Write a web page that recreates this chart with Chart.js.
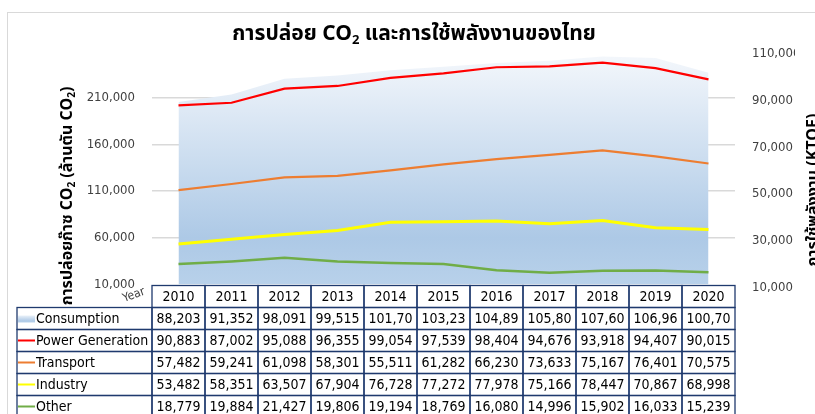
<!DOCTYPE html>
<html>
<head>
<meta charset="utf-8">
<script src="https://cdn.jsdelivr.net/npm/chart.js@4"></script>
<style>
  html, body { margin: 0; padding: 0; background: #fff; }
  #wrap { position: relative; width: 815px; height: 414px; overflow: hidden; }
</style>
</head>
<body>
<div id="wrap"><canvas id="chart" width="815" height="414"></canvas></div>
<script>
// ---- data ----
const years = ['2010', '2011', '2012', '2013', '2014', '2015', '2016', '2017', '2018', '2019', '2020'];
const consumption = [88203, 91352, 98091, 99515, 101704, 103233, 104893, 105802, 107601, 106964, 100705];
const powerGeneration = [90883, 87002, 95088, 96355, 99054, 97539, 98404, 94676, 93918, 94407, 90015];
const transport = [57482, 59241, 61098, 58301, 55511, 61282, 66230, 73633, 75167, 76401, 70575];
const industry = [53482, 58351, 63507, 67904, 76728, 77272, 77978, 75166, 78447, 70867, 68998];
const other = [18779, 19884, 21427, 19806, 19194, 18769, 16080, 14996, 15902, 16033, 15239];

const leftTicks = { min: 10000, max: 260000, step: 50000 };
const rightTicks = { min: 10000, max: 110000, step: 20000 };

const FONT = "'DejaVu Sans Condensed', 'DejaVu Sans', Tahoma, 'Noto Sans', sans-serif";
const THAI = "Tahoma, 'Noto Sans Thai', 'Noto Sans', 'DejaVu Sans', sans-serif";
const BORDER = '#1f3a6e';

function areaGradient(ctx, top, bottom) {
    const g = ctx.createLinearGradient(0, top, 0, bottom);
    g.addColorStop(0, '#f5f8fc');
    g.addColorStop(0.8, '#adc9e6');
    g.addColorStop(1, '#b8d1ea');
    return g;
}

// draw text made of pieces, some of them subscript
function richWidth(ctx, parts, size, weight, family) {
    let w = 0;
    parts.forEach(p => {
        ctx.font = `${weight} ${p.sub ? Math.round(size * 0.62) : size}px ${family}`;
        w += ctx.measureText(p.t).width;
    });
    return w;
}
function drawRich(ctx, parts, x, y, size, weight, family) {
    const total = richWidth(ctx, parts, size, weight, family);
    let cx = x - total / 2;
    ctx.textAlign = 'left';
    ctx.textBaseline = 'alphabetic';
    parts.forEach(p => {
        const s = p.sub ? Math.round(size * 0.62) : size;
        ctx.font = `${weight} ${s}px ${family}`;
        ctx.fillText(p.t, cx, p.sub ? y + size * 0.18 : y);
        cx += ctx.measureText(p.t).width;
    });
}

const decorPlugin = {
    id: 'decor',
    beforeDraw(chart) {
        const ctx = chart.ctx;
        ctx.save();
        ctx.fillStyle = '#fff';
        ctx.fillRect(0, 0, chart.width, chart.height);
        ctx.strokeStyle = '#d9d9d9';
        ctx.lineWidth = 1;
        ctx.strokeRect(7.5, 12.5, 900, 500);
        ctx.restore();
    },
    afterDraw(chart) {
        const ctx = chart.ctx;
        const area = chart.chartArea;
        const x = chart.scales.x;
        ctx.save();
        ctx.fillStyle = '#000';

        // title
        drawRich(ctx, [
            { t: 'การปล่อย CO' }, { t: '2', sub: true }, { t: ' และการใช้พลังงานของไทย' }
        ], 414, 40, 21, 'bold', THAI);

        // left axis title
        ctx.save();
        ctx.translate(72, 196);
        ctx.rotate(-Math.PI / 2);
        drawRich(ctx, [
            { t: 'การปล่อยก๊าซ CO' }, { t: '2', sub: true }, { t: ' (ล้านตัน CO' }, { t: '2', sub: true }, { t: ')' }
        ], 0, 0, 16, 'bold', THAI);
        ctx.restore();

        // right axis title (runs off the edge in the original)
        ctx.save();
        ctx.translate(818, 190);
        ctx.rotate(-Math.PI / 2);
        drawRich(ctx, [{ t: 'การใช้พลังงาน (KTOE)' }], 0, 0, 16, 'bold', THAI);
        ctx.restore();

        // "Year"
        ctx.save();
        ctx.translate(135, 298);
        ctx.rotate(-0.35);
        ctx.font = `12px ${FONT}`;
        ctx.fillStyle = '#404040';
        ctx.textAlign = 'center';
        ctx.fillText('Year', 0, 0);
        ctx.restore();

        // ---- data table ----
        const colW = (area.right - area.left) / years.length;
        const headTop = area.bottom + 1;
        const rowH = 22;
        const legendLeft = 17;
        const rows = [
            { name: 'Consumption', data: consumption, mark: 'area' },
            { name: 'Power Generation', data: powerGeneration, color: '#ff0000' },
            { name: 'Transport', data: transport, color: '#ed7d31' },
            { name: 'Industry', data: industry, color: '#ffff00' },
            { name: 'Other', data: other, color: '#70ad47' }
        ];

        ctx.strokeStyle = BORDER;
        ctx.lineWidth = 1.3;
        ctx.font = `14px ${FONT}`;
        ctx.textBaseline = 'middle';

        // header
        years.forEach((yr, i) => {
            const cx = x.getPixelForValue(i);
            ctx.strokeRect(cx - colW / 2, headTop, colW, rowH);
            ctx.fillStyle = '#000';
            ctx.textAlign = 'center';
            ctx.fillText(yr, cx, headTop + rowH / 2 + 1);
        });

        rows.forEach((r, ri) => {
            const top = headTop + rowH * (ri + 1);
            ctx.strokeRect(legendLeft, top, area.left - legendLeft, rowH);
            const my = top + rowH / 2;
            if (r.mark === 'area') {
                ctx.fillStyle = areaGradient(ctx, my - 4, my + 4);
                ctx.fillRect(legendLeft + 1, my - 3, 17, 7);
            } else {
                ctx.strokeStyle = r.color;
                ctx.lineWidth = 2;
                ctx.beginPath();
                ctx.moveTo(legendLeft + 1, my);
                ctx.lineTo(legendLeft + 18, my);
                ctx.stroke();
                ctx.strokeStyle = BORDER;
                ctx.lineWidth = 1.3;
            }
            ctx.fillStyle = '#000';
            ctx.textAlign = 'left';
            ctx.fillText(r.name, legendLeft + 19, my + 1);

            r.data.forEach((v, i) => {
                const left = x.getPixelForValue(i) - colW / 2;
                ctx.strokeRect(left, top, colW, rowH);
                let s = v.toLocaleString('en-US');
                while (ctx.measureText(s).width > colW - 3) s = s.slice(0, -1);
                const w = ctx.measureText(s).width;
                ctx.fillStyle = '#000';
                ctx.fillText(s, left + Math.max(2, (colW - w) / 2), my + 1);
            });
        });
        ctx.restore();
    }
};

const tickFmt = v => v.toLocaleString('en-US');

const ctx = document.getElementById('chart').getContext('2d');
const mainChart = new Chart(ctx, {
    type: 'line',
    data: {
        labels: years,
        datasets: [
            {
                label: 'Industry',
                data: industry,
                yAxisID: 'y',
                borderColor: '#ffff00',
                borderWidth: 3,
                fill: false,
                order: 1
            },
            {
                label: 'Transport',
                data: transport,
                yAxisID: 'y',
                borderColor: '#ed7d31',
                borderWidth: 2.2,
                fill: false,
                order: 1
            },
            {
                label: 'Power Generation',
                data: powerGeneration,
                yAxisID: 'y',
                borderColor: '#ff0000',
                borderWidth: 2.2,
                fill: false,
                order: 1
            },
            {
                label: 'Other',
                data: other,
                yAxisID: 'y1',
                borderColor: '#70ad47',
                borderWidth: 2.5,
                fill: false,
                order: 1
            },
            {
                label: 'Consumption',
                data: consumption,
                yAxisID: 'y1',
                borderWidth: 0,
                borderColor: 'rgba(0,0,0,0)',
                fill: 'start',
                backgroundColor: c => {
                    const a = c.chart.chartArea;
                    if (!a) return '#c5d9ee';
                    return areaGradient(c.chart.ctx, a.top, a.bottom);
                },
                order: 5
            }
        ]
    },
    options: {
        responsive: false,
        animation: false,
        maintainAspectRatio: false,
        elements: { point: { radius: 0 }, line: { tension: 0 } },
        layout: { padding: { left: 52, right: 20, top: 51, bottom: 129.5 } },
        plugins: { legend: { display: false }, tooltip: { enabled: false } },
        scales: {
            x: { display: false, offset: true },
            y: {
                position: 'left',
                stacked: true,
                min: leftTicks.min,
                max: leftTicks.max,
                ticks: {
                    stepSize: leftTicks.step,
                    padding: 17,
                    color: '#404040',
                    font: { family: FONT, size: 13 },
                    callback: v => v === leftTicks.max ? '' : tickFmt(v)
                },
                grid: {
                    drawTicks: false,
                    lineWidth: 1.5,
                    color: c => (c.tick && (c.tick.value === leftTicks.max || c.tick.value === leftTicks.min)) ? 'rgba(0,0,0,0)' : '#d9d9d9'
                },
                border: { display: false },
                afterFit: s => { s.width = 100; }
            },
            y1: {
                position: 'right',
                min: rightTicks.min,
                max: rightTicks.max,
                ticks: {
                    stepSize: rightTicks.step,
                    padding: 17,
                    labelOffset: 3,
                    color: '#404040',
                    font: { family: FONT, size: 13 },
                    callback: tickFmt
                },
                grid: { display: false, drawTicks: false },
                border: { display: false },
                afterFit: s => { s.width = 60; }
            }
        }
    },
    plugins: [decorPlugin]
});
</script>
</body>
</html>
